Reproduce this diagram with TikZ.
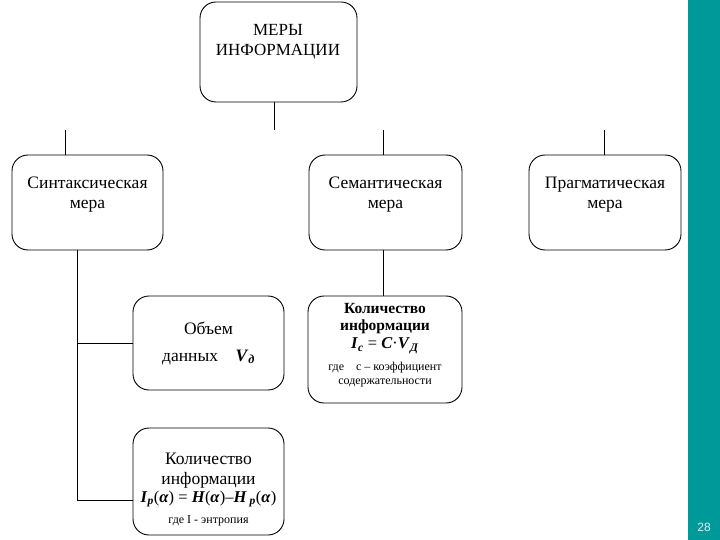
\documentclass[tikz,border=0pt]{standalone}
\usepackage{fontspec}
\setmainfont{Liberation Serif}
\setsansfont{Liberation Sans}
\usetikzlibrary{positioning}
\definecolor{teal}{RGB}{0,153,153}
\tikzset{
 box/.style={draw,rounded corners=16pt,line width=0.9pt,minimum width=#1},
 txt/.style={inner sep=0pt,align=center,font=\fontsize{17.5}{20}\selectfont},
 small/.style={inner sep=0pt,align=center,font=\fontsize{12}{14}\selectfont},
}
\newcommand{\fb}[1]{\textbf{\textit{#1}}}
\begin{document}
\begin{tikzpicture}[x=1pt,y=-1pt]
\useasboundingbox (0,0) rectangle (720,540);
\fill[teal] (688,0) rectangle (720,540);
\node[font=\sffamily\fontsize{12}{14}\selectfont,text=white!85!teal] (page) at (704,527) {28};

% boxes
\node[box=157pt,minimum height=100pt] (top) at (278.5,52) {};
\node[box=151pt,minimum height=95pt] (syn) at (87.5,202.5) {};
\node[box=153pt,minimum height=95pt] (sem) at (385.5,202.5) {};
\node[box=152pt,minimum height=95pt] (prag) at (605,202.5) {};
\node[box=151pt,minimum height=94pt] (vol) at (208.5,343) {};
\node[box=154pt,minimum height=107pt] (semq) at (385,349.5) {};
\node[box=151pt,minimum height=107pt] (synq) at (208.5,481.5) {};

% texts
\node[txt,font=\fontsize{17}{20}\selectfont] (toptxt) at (278,42) {МЕРЫ\\ИНФОРМАЦИИ};
\node[txt] (syntxt) at (87.5,195) {Синтаксическая\\мера};
\node[txt] (semtxt) at (385.5,195) {Семантическая\\мера};
\node[txt] (pragtxt) at (605,195) {Прагматическая\\мера};
\node[txt] (voltxt) at (208.5,328) {Объем};
\node[txt,anchor=west] (voltxt2) at (162,357) {данных\quad\fb{V}\textsubscript{\fb{д}}};
\node[txt,font=\bfseries\fontsize{15.5}{17}\selectfont] (semqtxt) at (385,318.5) {Количество\\информации};
\node[txt,font=\fontsize{16.5}{19}\selectfont] (semqf) at (385,346) {\fb{I}\textsubscript{\fb{c}} = \fb{C}·\fb{V}\textsubscript{\fb{Д}}};
\node[small] (semqn) at (385,375) {где\quad с – коэффициент\\содержательности};
\node[txt] (synqtxt) at (208.5,471) {Количество\\информации};
\node[txt,font=\fontsize{16.5}{19}\selectfont] (synqf) at (208.5,499) {\fb{I}\textsubscript{\fb{р}}(\fb{α}) = \fb{H}(\fb{α})–\fb{H}\,\textsubscript{\fb{р}}(\fb{α})};
\node[small] (synqn) at (208.5,521) {где I - энтропия};

% connectors
\coordinate (c0) at (274,130);
\coordinate (c1) at (65,130);
\coordinate (c2) at (383,130);
\coordinate (c3) at (604,130);
\coordinate (c4) at (77,343);
\coordinate (c5) at (77,500);
\draw[line width=0.9pt] (c0 |- top.south) -- (c0);
\draw[line width=0.9pt] (c1) -- (c1 |- syn.north);
\draw[line width=0.9pt] (c2) -- (c2 |- sem.north);
\draw[line width=0.9pt] (c3) -- (c3 |- prag.north);
\draw[line width=0.9pt] (c4 |- syn.south) -- (c5);
\draw[line width=0.9pt] (c4) -- (vol.west);
\draw[line width=0.9pt] (c5) -- (c5 -| synq.west);
\draw[line width=0.9pt] (c2 |- sem.south) -- (c2 |- semq.north);
\end{tikzpicture}
\end{document}
